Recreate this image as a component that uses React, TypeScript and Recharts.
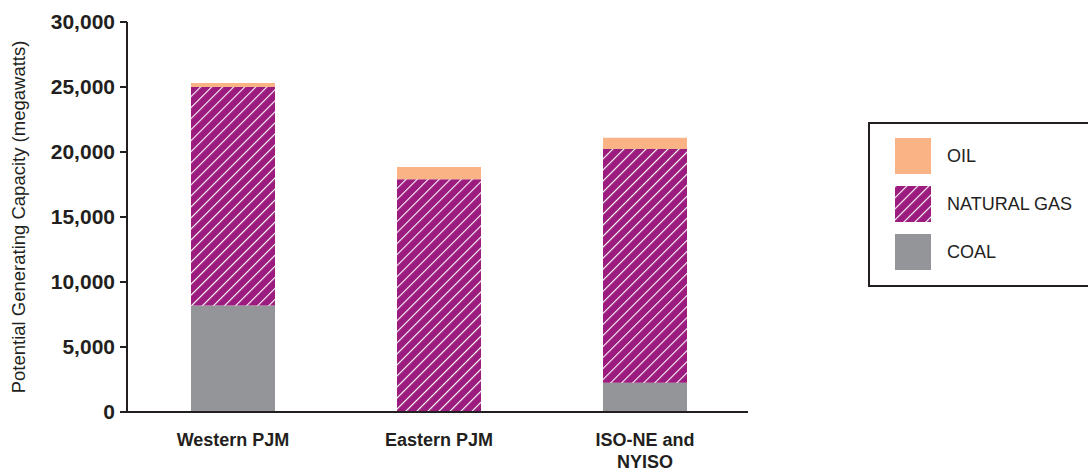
import React from 'react';
import { BarChart, Bar, XAxis, YAxis } from 'recharts';

const regions = ['Western PJM', 'Eastern PJM', 'ISO-NE and NYISO'];
const coal = [8200, 0, 2250];
const naturalGas = [16800, 17900, 17980];
const oil = [300, 950, 870];
const yTicks = [0, 5000, 10000, 15000, 20000, 25000, 30000];

const data = regions.map((region, i) => ({
  region,
  coal: coal[i],
  gas: naturalGas[i],
  oil: oil[i],
}));

const FONT = '"Liberation Sans", Arial, Helvetica, sans-serif';
const INK = '#231F20';
const OIL = '#F9B384';
const GAS = '#9B1B7E';
const COAL = '#939598';

const legendItems = [
  { name: 'OIL', fill: OIL },
  { name: 'NATURAL GAS', fill: 'url(#gasHatch)' },
  { name: 'COAL', fill: COAL },
];

const HatchDefs = () => (
  <defs>
    <pattern id="gasHatch" patternUnits="userSpaceOnUse" width="7.8" height="7.8" patternTransform="rotate(45)">
      <rect width="7.8" height="7.8" fill={GAS} />
      <line x1="0" y1="0" x2="0" y2="7.8" stroke="#ffffff" strokeWidth="2.2" />
    </pattern>
  </defs>
);

const XTick = ({ x, y, payload }: any) => {
  // wrap long category names onto two lines
  const words = String(payload.value).split(' ');
  const lines: string[] = [];
  let cur = '';
  words.forEach((w) => {
    const next = cur ? cur + ' ' + w : w;
    if (next.length > 12 && cur) {
      lines.push(cur);
      cur = w;
    } else cur = next;
  });
  if (cur) lines.push(cur);
  return (
    <text x={x} y={y} textAnchor="middle" fill={INK} fontFamily={FONT} fontSize={18} fontWeight="bold">
      {lines.map((l, i) => (
        <tspan key={i} x={x} dy={i === 0 ? 26 : 22}>{l}</tspan>
      ))}
    </text>
  );
};

const YLabel = ({ viewBox }: any) => {
  const cx = viewBox.x - 9;
  const cy = viewBox.y + viewBox.height / 2;
  return (
    <text
      x={cx}
      y={cy}
      transform={`rotate(-90, ${cx}, ${cy})`}
      textAnchor="middle"
      dominantBaseline="central"
      fill={INK}
      fontFamily={FONT}
      fontSize={18.5}
    >
      Potential Generating Capacity (megawatts)
    </text>
  );
};

const LegendBox = () => (
  <div
    style={{
      position: 'absolute',
      left: 868,
      top: 122,
      border: `2px solid ${INK}`,
      width: 240,
      height: 165,
      boxSizing: 'border-box',
      paddingLeft: 25,
      paddingTop: 14,
      background: '#fff',
    }}
  >
    {legendItems.map((item) => (
      <div key={item.name} style={{ display: 'flex', alignItems: 'center', height: 36, marginBottom: 12 }}>
        <svg width={36} height={36} style={{ display: 'block' }}>
          <HatchDefs />
          <rect width={36} height={36} fill={item.fill} />
        </svg>
        <span style={{ marginLeft: 16, fontFamily: FONT, fontSize: 18, color: INK }}>{item.name}</span>
      </div>
    ))}
  </div>
);

export default function App() {
  return (
    <div style={{ position: 'absolute', left: 0, top: 0, width: 1088, height: 471, overflow: 'hidden', background: '#fff' }}>
      <BarChart
        width={1088}
        height={471}
        data={data}
        margin={{ top: 22, right: 340, bottom: 9, left: 27 }}
        barSize={84}
      >
        <HatchDefs />
        <XAxis
          dataKey="region"
          height={50}
          tickLine={false}
          axisLine={{ stroke: INK, strokeWidth: 2 }}
          tick={<XTick />}
          padding={{ left: 3, right: 0 }}
          interval={0}
        />
        <YAxis
          width={100}
          domain={[0, 30000]}
          ticks={yTicks}
          interval={0}
          tickSize={7}
          tickMargin={5}
          tickLine={{ stroke: INK, strokeWidth: 2 }}
          axisLine={{ stroke: INK, strokeWidth: 2 }}
          tickFormatter={(v: number) => v.toLocaleString('en-US')}
          tick={{ fill: INK, fontFamily: FONT, fontSize: 21, fontWeight: 'bold' }}
          label={<YLabel />}
        />
        <Bar dataKey="coal" stackId="a" fill={COAL} isAnimationActive={false} />
        <Bar dataKey="gas" stackId="a" fill="url(#gasHatch)" isAnimationActive={false} />
        <Bar dataKey="oil" stackId="a" fill={OIL} isAnimationActive={false} />
      </BarChart>
      <LegendBox />
    </div>
  );
}
